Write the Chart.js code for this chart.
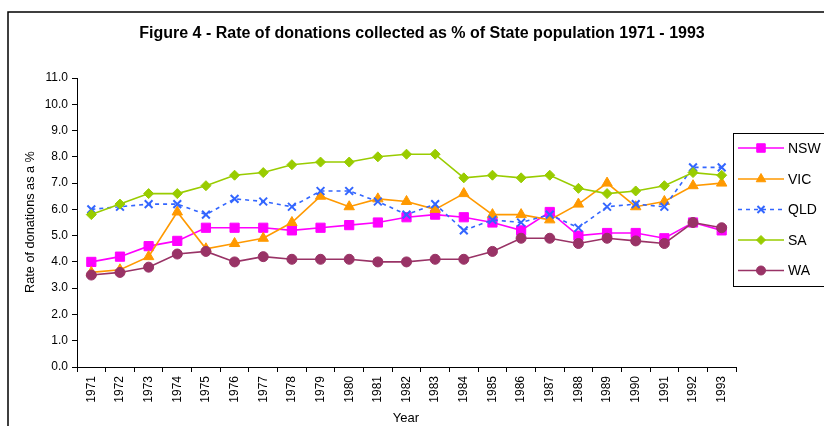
<!DOCTYPE html>
<html>
<head>
<meta charset="utf-8">
<script src="https://cdn.jsdelivr.net/npm/chart.js@4.4.1/dist/chart.umd.min.js"></script>
<style>
  html, body { margin: 0; padding: 0; background: #fff; }
  #wrap { width: 824px; height: 426px; }
</style>
</head>
<body>
<div id="wrap"><canvas id="chart" width="824" height="426"></canvas></div>
<script>
// years on the category axis
const years = ["1971","1972","1973","1974","1975","1976","1977","1978","1979","1980","1981","1982",
  "1983","1984","1985","1986","1987","1988","1989","1990","1991","1992","1993"];

// donation rate (% of state population) per state
const nsw = [4.0,4.2,4.6,4.8,5.3,5.3,5.3,5.2,5.3,5.4,5.5,5.7,5.8,5.7,5.5,5.2,5.9,5.0,5.1,5.1,4.9,5.5,5.2];
const vic = [3.6,3.7,4.2,5.9,4.5,4.7,4.9,5.5,6.5,6.1,6.4,6.3,6.0,6.6,5.8,5.8,5.6,6.2,7.0,6.1,6.3,6.9,7.0];
const qld = [6.0,6.1,6.2,6.2,5.8,6.4,6.3,6.1,6.7,6.7,6.3,5.8,6.2,5.2,5.6,5.5,5.8,5.3,6.1,6.2,6.1,7.6,7.6];
const sa  = [5.8,6.2,6.6,6.6,6.9,7.3,7.4,7.7,7.8,7.8,8.0,8.1,8.1,7.2,7.3,7.2,7.3,6.8,6.6,6.7,6.9,7.4,7.3];
const wa  = [3.5,3.6,3.8,4.3,4.4,4.0,4.2,4.1,4.1,4.1,4.0,4.0,4.1,4.1,4.4,4.9,4.9,4.7,4.9,4.8,4.7,5.5,5.3];

const yTicks = [0,1,2,3,4,5,6,7,8,9,10,11];

const FONT = "'Liberation Sans', Arial, sans-serif";

function series(label, data, color, style, radius, order, dash) {
  return {
    label, data, order,
    borderColor: color,
    backgroundColor: color,
    pointBackgroundColor: color,
    pointBorderColor: color,
    pointStyle: style,
    pointRadius: radius,
    pointHoverRadius: radius,
    pointBorderWidth: style === 'crossRot' ? 2 : 1,
    borderWidth: 1.6,
    borderDash: dash || [],
    tension: 0
  };
}

const datasets = [
  series("NSW", nsw, "#FF00FF", "rect", 6.5, 5),
  series("VIC", vic, "#FF9900", "triangle", 6, 4),
  series("QLD", qld, "#3366FF", "crossRot", 5.5, 3, [4, 4]),
  series("SA",  sa,  "#99CC00", "rectRot", 5, 2),
  series("WA",  wa,  "#993366", "circle", 5, 1)
];

// white page, outer frame, titles and the boxed legend on the right
const decor = {
  id: "decor",
  beforeDraw(chart) {
    const ctx = chart.ctx;
    ctx.save();
    ctx.fillStyle = "#fff";
    ctx.fillRect(0, 0, chart.width, chart.height);
    ctx.restore();
  },
  afterDraw(chart) {
    const ctx = chart.ctx;
    ctx.save();
    ctx.strokeStyle = "#000";
    ctx.lineWidth = 1.5;
    ctx.strokeRect(8, 12, 840, 440);

    ctx.fillStyle = "#000";
    ctx.textAlign = "center";
    ctx.textBaseline = "middle";
    ctx.font = "bold 16px " + FONT;
    ctx.fillText("Figure 4 - Rate of donations collected as % of State population 1971 - 1993", 422, 34);

    ctx.font = "13px " + FONT;
    ctx.fillText("Year", 406, 418);

    ctx.save();
    ctx.translate(30, 222);
    ctx.rotate(-Math.PI / 2);
    ctx.font = "12.7px " + FONT;
    ctx.fillText("Rate of donations as a %", 0, 0);
    ctx.restore();

    // legend
    const lx = 733, ly = 133, lh = 153;
    ctx.fillStyle = "#fff";
    ctx.fillRect(lx, ly, 120, lh);
    ctx.lineWidth = 1;
    ctx.strokeStyle = "#000";
    ctx.strokeRect(lx + 0.5, ly + 0.5, 120, lh);
    const rows = [148, 179, 209.5, 240, 270.5];
    chart.data.datasets.forEach((ds, i) => {
      const y = rows[i];
      ctx.save();
      ctx.strokeStyle = ds.borderColor;
      ctx.lineWidth = ds.borderWidth;
      ctx.setLineDash(ds.borderDash);
      ctx.beginPath();
      ctx.moveTo(738, y);
      ctx.lineTo(784, y);
      ctx.stroke();
      ctx.setLineDash([]);
      ctx.fillStyle = ds.pointBackgroundColor;
      ctx.lineWidth = ds.pointBorderWidth;
      Chart.helpers.drawPoint(ctx, { pointStyle: ds.pointStyle, radius: ds.pointRadius - 0.5, borderWidth: ds.pointBorderWidth }, 761, y);
      ctx.restore();
      ctx.fillStyle = "#000";
      ctx.textAlign = "left";
      ctx.font = "14px " + FONT;
      ctx.fillText(ds.label, 788, y + 1);
    });
    ctx.restore();
  }
};

new Chart(document.getElementById("chart"), {
  type: "line",
  data: { labels: years, datasets },
  plugins: [decor],
  options: {
    responsive: false,
    animation: false,
    layout: { padding: { top: 78, right: 88, left: 0, bottom: 0 } },
    plugins: {
      legend: { display: false },
      title: { display: false },
      tooltip: { enabled: false }
    },
    scales: {
      x: {
        type: "category",
        offset: true,
        grid: { offset: true, drawOnChartArea: false, tickLength: 5, color: "#000" },
        border: { color: "#000", width: 1 },
        ticks: {
          minRotation: 90, maxRotation: 90, autoSkip: false,
          color: "#000", font: { family: FONT, size: 12 }, padding: 4
        },
        afterFit(s) { s.height = 59; }
      },
      y: {
        min: yTicks[0],
        max: yTicks[yTicks.length - 1],
        afterBuildTicks(s) { s.ticks = yTicks.map(v => ({ value: v })); },
        grid: { drawOnChartArea: false, tickLength: 5, color: "#000" },
        border: { color: "#000", width: 1 },
        ticks: {
          color: "#000", font: { family: FONT, size: 12 }, padding: 4,
          callback: v => Number(v).toFixed(1)
        },
        afterFit(s) { s.width = 77; }
      }
    }
  }
});
</script>
</body>
</html>
